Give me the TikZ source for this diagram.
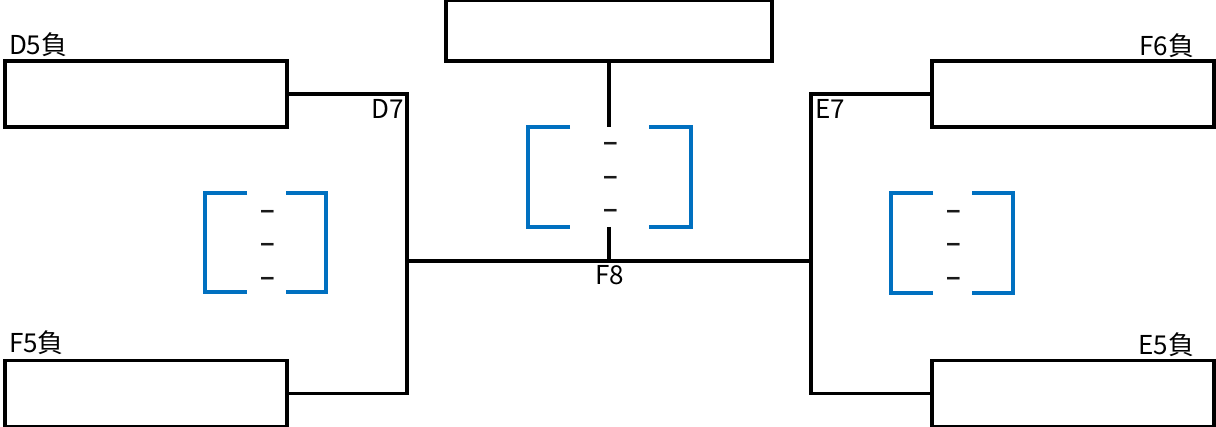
\documentclass[tikz,border=0pt]{standalone}
\usepackage{fontspec}
\setmainfont{Noto Sans CJK JP}
\newfontfamily\dashfont{Liberation Sans}
\definecolor{brblue}{RGB}{0,112,192}
\definecolor{brtext}{RGB}{0,0,0}

\begin{document}
\begin{tikzpicture}[
  x=0.75pt,
  y=-0.75pt,
  every node/.style={inner sep=0pt, outer sep=0pt},
  label/.style={font=\fontsize{19.5}{21}\selectfont, text=brtext},
  dashmark/.style={font=\dashfont\bfseries\fontsize{19}{21}\selectfont, text=black!90},
  teambox/.style={draw=black, fill=white, line width=2.7pt, minimum width=211.5pt, minimum height=49.5pt},
  finalbox/.style={draw=black, fill=white, line width=2.7pt, minimum width=244.5pt, minimum height=45.75pt},
  link/.style={draw=black, line width=2.6pt},
  bracket/.style={draw=brblue, line width=2.6pt}
]

  \path[use as bounding box] (0,0) rectangle (1216,427);

  % Team boxes.
  \node[teambox] (d5) at (146,94) {};
  \node[teambox] (f5) at (146,393.5) {};
  \node[teambox] (f6) at (1073,94) {};
  \node[teambox] (e5) at (1073,393.5) {};
  \node[finalbox] (top) at (609,30.5) {};

  \node[label, anchor=base west] (d5lab) at (9,55) {D5負};
  \node[label, anchor=base west] (f5lab) at (9,353) {F5負};
  \node[label, anchor=base east] (f6lab) at (1194,56) {F6負};
  \node[label, anchor=base east] (e5lab) at (1194,354) {E5負};

  % Left half.
  \coordinate (d7) at (407,94);
  \coordinate (d7low) at (407,393.5);
  \coordinate (f8left) at (407,261);
  \draw[link] (d5.east) -- (d7) -- (d7low) -- (f5.east);
  \node[label, anchor=base east] (d7lab) at (404,119) {D7};

  % Right half.
  \coordinate (e7) at (811,94);
  \coordinate (e7low) at (811,393.5);
  \coordinate (f8right) at (811,261);
  \draw[link] (f6.west) -- (e7) -- (e7low) -- (e5.west);
  \node[label, anchor=base west] (e7lab) at (815,119) {E7};

  % Final.
  \coordinate (f8) at (609,261);
  \coordinate (f8up) at (609,127);
  \coordinate (f8down) at (609,227);
  \draw[link] (f8left) -- (f8right);
  \draw[link] (top.south) -- (f8up);
  \draw[link] (f8down) -- (f8);
  \node[label, anchor=base] (f8lab) at (610,285) {F8};

  % Score brackets, left.
  \draw[bracket] (247,193) -- (205,193) -- (205,292) -- (247,292);
  \draw[bracket] (286,193) -- (326,193) -- (326,292) -- (286,292);
  \node[dashmark] (ls1) at (267.5,214) {–};
  \node[dashmark] (ls2) at (267.5,247) {–};
  \node[dashmark] (ls3) at (267.5,281) {–};

  % Score brackets, centre.
  \draw[bracket] (570,127) -- (528,127) -- (528,227) -- (570,227);
  \draw[bracket] (649,127) -- (691,127) -- (691,227) -- (649,227);
  \node[dashmark] (cs1) at (610.5,146) {–};
  \node[dashmark] (cs2) at (610.5,180) {–};
  \node[dashmark] (cs3) at (610.5,213) {–};

  % Score brackets, right.
  \draw[bracket] (933,193) -- (891,193) -- (891,293) -- (933,293);
  \draw[bracket] (972,193) -- (1013,193) -- (1013,293) -- (972,293);
  \node[dashmark] (rs1) at (953.5,214) {–};
  \node[dashmark] (rs2) at (953.5,247) {–};
  \node[dashmark] (rs3) at (953.5,281) {–};

\end{tikzpicture}
\end{document}
